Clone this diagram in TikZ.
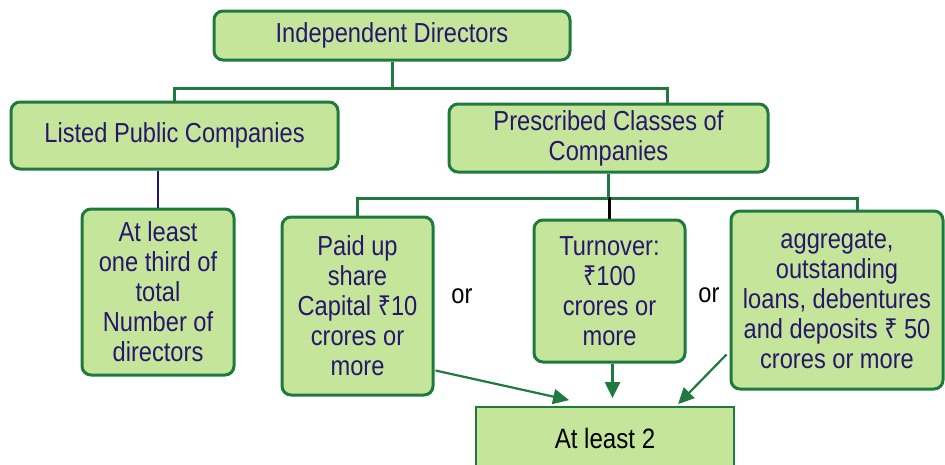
\documentclass[tikz,border=0pt]{standalone}
\usepackage{fontspec}
\setmainfont{Liberation Sans}[FakeStretch=0.86]
\newfontfamily\rupeefont{Noto Sans}[FakeStretch=0.84]
\newcommand\Rsign{{\rupeefont ₹}}
\usetikzlibrary{arrows.meta,calc}
\definecolor{boxfill}{RGB}{197,230,154}
\definecolor{boxline}{RGB}{30,122,62}
\definecolor{navy}{RGB}{40,22,110}
\tikzset{
  box/.style={draw=boxline, fill=boxfill, line width=3pt, rounded corners=9pt,
    align=center, inner sep=0pt, text=navy, font=\fontsize{27.5}{30}\selectfont},
  sqbox/.style={draw=boxline, fill=boxfill, line width=1.8pt,
    align=center, inner sep=0pt, text=black, font=\fontsize{28}{30}\selectfont},
  conn/.style={draw=boxline, line width=3pt},
  arrowline/.style={draw=boxline, line width=2.2pt, -{Triangle[length=16pt,width=15pt]}},
  ortext/.style={text=black, font=\fontsize{27.5}{30}\selectfont, inner sep=0pt}
}
\begin{document}
\begin{tikzpicture}[x=1pt,y=-1pt]
\useasboundingbox (0,0) rectangle (945,464);
\node[box, minimum width=356pt, minimum height=49pt] (id) at (392,35.5) {Independent Directors};
\node[box, minimum width=327pt, minimum height=67pt] (lpc) at (174.5,135.5) {Listed Public Companies};
\node[box, minimum width=319pt, minimum height=68pt] (pcc) at (608.5,138) {Prescribed Classes of\\Companies};
\node[box, minimum width=152pt, minimum height=166pt] (third) at (158,292) {At least\\one third of\\total\\Number of\\directors};
\node[box, minimum width=151pt, minimum height=178pt] (paid) at (357.5,306) {Paid up\\share\\Capital \Rsign10\\crores or\\more};
\node[box, minimum width=151pt, minimum height=142pt] (turn) at (609.5,291) {Turnover:\\\Rsign100\\crores or\\more};
\node[box, minimum width=212pt, minimum height=178pt] (agg) at (837,300) {aggregate,\\outstanding\\loans, debentures\\and deposits \Rsign{} 50\\crores or more};
\node[sqbox, minimum width=258pt, minimum height=62pt] (two) at (605,438) {At least 2};
\node[ortext] (or1) at (462,296) {or};
\node[ortext] (or2) at (709,295) {or};
% connectors
\coordinate (bus1) at ($(id.south)+(0,27)$);
\draw[conn] (id.south) -- (bus1) -| (lpc.north);
\draw[conn] (bus1) -| ($(pcc.north)+(58.5,0)$);
\draw[navy, line width=2.8pt] (lpc.south -| third.north) -- (third.north);
\coordinate (bus2) at ($(pcc.south)+(0,25)$);
\draw[conn] (pcc.south) -- (bus2);
\draw[conn] (bus2) -| (paid.north);
\draw[conn] (bus2) -| ($(agg.north)+(20,0)$);
\draw[black, line width=2.8pt] (bus2) -- (bus2 -| turn.north) -- (turn.north);
% arrows
\draw[arrowline] ($(paid.south east)+(1,-26)$) -- ($(two.north west)+(94,-6)$);
\draw[arrowline] ($(turn.south)+(3,0)$) -- ($(turn.south |- two.north)+(3,-8)$);
\draw[arrowline] ($(agg.south west)+(-3,-36)$) -- ($(two.north west)+(203,-2)$);
\end{tikzpicture}
\end{document}
